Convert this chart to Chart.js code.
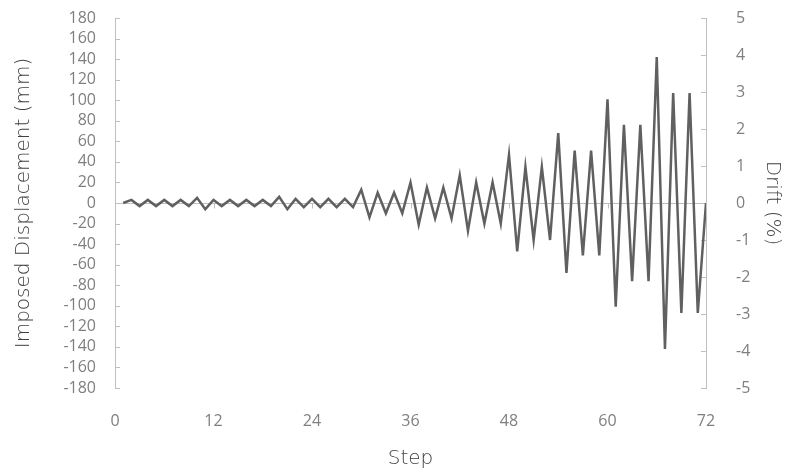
<!DOCTYPE html>
<html>
<head>
<meta charset="utf-8">
<script src="https://cdn.jsdelivr.net/npm/chart.js@4.4.1/dist/chart.umd.min.js"></script>
<style>
  html, body { margin: 0; padding: 0; background: #fff; }
  #wrap { width: 790px; height: 475px; }
</style>
</head>
<body>
<div id="wrap"><canvas id="myChart" width="790" height="475"></canvas></div>
<script>
// step number of each point
const steps = [
  1, 2, 3, 4, 5, 6, 7, 8, 9, 10, 11, 12, 13, 14, 15, 16, 17, 18,
  19, 20, 21, 22, 23, 24, 25, 26, 27, 28, 29, 30, 31, 32, 33, 34, 35, 36,
  37, 38, 39, 40, 41, 42, 43, 44, 45, 46, 47, 48, 49, 50, 51, 52, 53, 54,
  55, 56, 57, 58, 59, 60, 61, 62, 63, 64, 65, 66, 67, 68, 69, 70, 71, 72
];
// imposed displacement (mm)
const displacement = [
  0, 3, -3, 3, -3, 3, -3, 3, -3, 5, -6, 3, -3, 3, -3, 3, -3, 3,
  -3, 6, -6, 4, -4, 4, -4, 4, -4, 4, -4, 13, -14, 10, -10, 10, -10, 20,
  -21, 15, -15, 15, -15, 27, -27, 20, -20, 20, -20, 47, -47, 35, -36, 35, -36, 68,
  -68, 51, -51, 51, -51, 101, -101, 76, -76, 76, -76, 142, -142, 107, -107, 107, -107, 0
];

const axisColor = "#bfbfbf";
const tickColor = "#7f7f7f";
const titleColor = "#404040";
const tickFont = { family: "'Open Sans', sans-serif", size: 16 };
const titleFont = { family: "'DejaVu Sans', sans-serif", size: 20, weight: "300" };

const points = steps.map((s, i) => ({ x: s, y: displacement[i] }));

// no extra room for half tick labels, the plot box is fixed
function noPad(s) {
  s.paddingTop = 0;
  s.paddingBottom = 0;
  s.paddingLeft = 0;
  s.paddingRight = 0;
}

// zero line + inside tick marks (Excel style)
const axesPlugin = {
  id: "excel_axes",
  beforeDatasetsDraw: (chart) => {
    const { ctx, chartArea } = chart;
    const x = chart.scales.x, y = chart.scales.y, y2 = chart.scales.y2;
    ctx.save();
    ctx.strokeStyle = axisColor;
    ctx.lineWidth = 1;
    const y0 = Math.round(y.getPixelForValue(0)) + 0.5;
    ctx.beginPath();
    ctx.moveTo(chartArea.left, y0);
    ctx.lineTo(chartArea.right, y0);
    x.ticks.forEach((t) => {
      const px = Math.round(x.getPixelForValue(t.value)) + 0.5;
      ctx.moveTo(px, y0);
      ctx.lineTo(px, y0 + 5);
    });
    y.ticks.forEach((t) => {
      const py = Math.round(y.getPixelForValue(t.value)) + 0.5;
      ctx.moveTo(chartArea.left, py);
      ctx.lineTo(chartArea.left + 5, py);
    });
    y2.ticks.forEach((t) => {
      const py = Math.round(y2.getPixelForValue(t.value)) + 0.5;
      ctx.moveTo(chartArea.right, py);
      ctx.lineTo(chartArea.right - 5, py);
    });
    ctx.stroke();
    ctx.restore();
  },
};

const config = {
  type: "line",
  data: {
    datasets: [
      {
        data: points,
        borderColor: "#606060",
        borderWidth: 2.5,
        pointRadius: 0,
        tension: 0,
        fill: false,
        yAxisID: "y",
      },
    ],
  },
  plugins: [axesPlugin],
  options: {
    responsive: false,
    animation: false,
    layout: { padding: { top: 18, left: 0, right: 0, bottom: 0 } },
    plugins: {
      legend: { display: false },
      tooltip: { enabled: false },
    },
    scales: {
      x: {
        type: "linear",
        min: 0,
        max: 72,
        afterFit: (s) => { s.height = 87; noPad(s); },
        ticks: { stepSize: 12, color: tickColor, font: tickFont, padding: 24, maxRotation: 0 },
        grid: { display: false, drawTicks: false },
        border: { display: false },
        title: { display: true, text: "Step", color: titleColor, font: titleFont, padding: { top: 0, bottom: 4 } },
      },
      y: {
        position: "left",
        min: -180,
        max: 180,
        afterFit: (s) => { s.width = 115; noPad(s); },
        afterBuildTicks: (s) => {
          s.ticks = [];
          for (let v = -180; v <= 180; v += 20) s.ticks.push({ value: v });
        },
        ticks: { color: tickColor, font: tickFont, padding: 19, autoSkip: false },
        grid: { display: false, drawTicks: false },
        border: { display: true, color: axisColor, width: 1 },
        title: { display: true, text: "Imposed Displacement (mm)", color: titleColor, font: titleFont, padding: { top: 12, bottom: 0 } },
      },
      y2: {
        position: "right",
        min: -5,
        max: 5,
        afterFit: (s) => { s.width = 84; noPad(s); },
        ticks: { stepSize: 1, color: tickColor, font: tickFont, padding: 30 },
        grid: { display: false, drawTicks: false },
        border: { display: true, color: axisColor, width: 1 },
        title: { display: true, text: "Drift (%)", color: titleColor, font: titleFont, padding: { top: 6, bottom: 0 } },
      },
    },
  },
};

var myChart = new Chart(document.getElementById("myChart"), config);
</script>
</body>
</html>
